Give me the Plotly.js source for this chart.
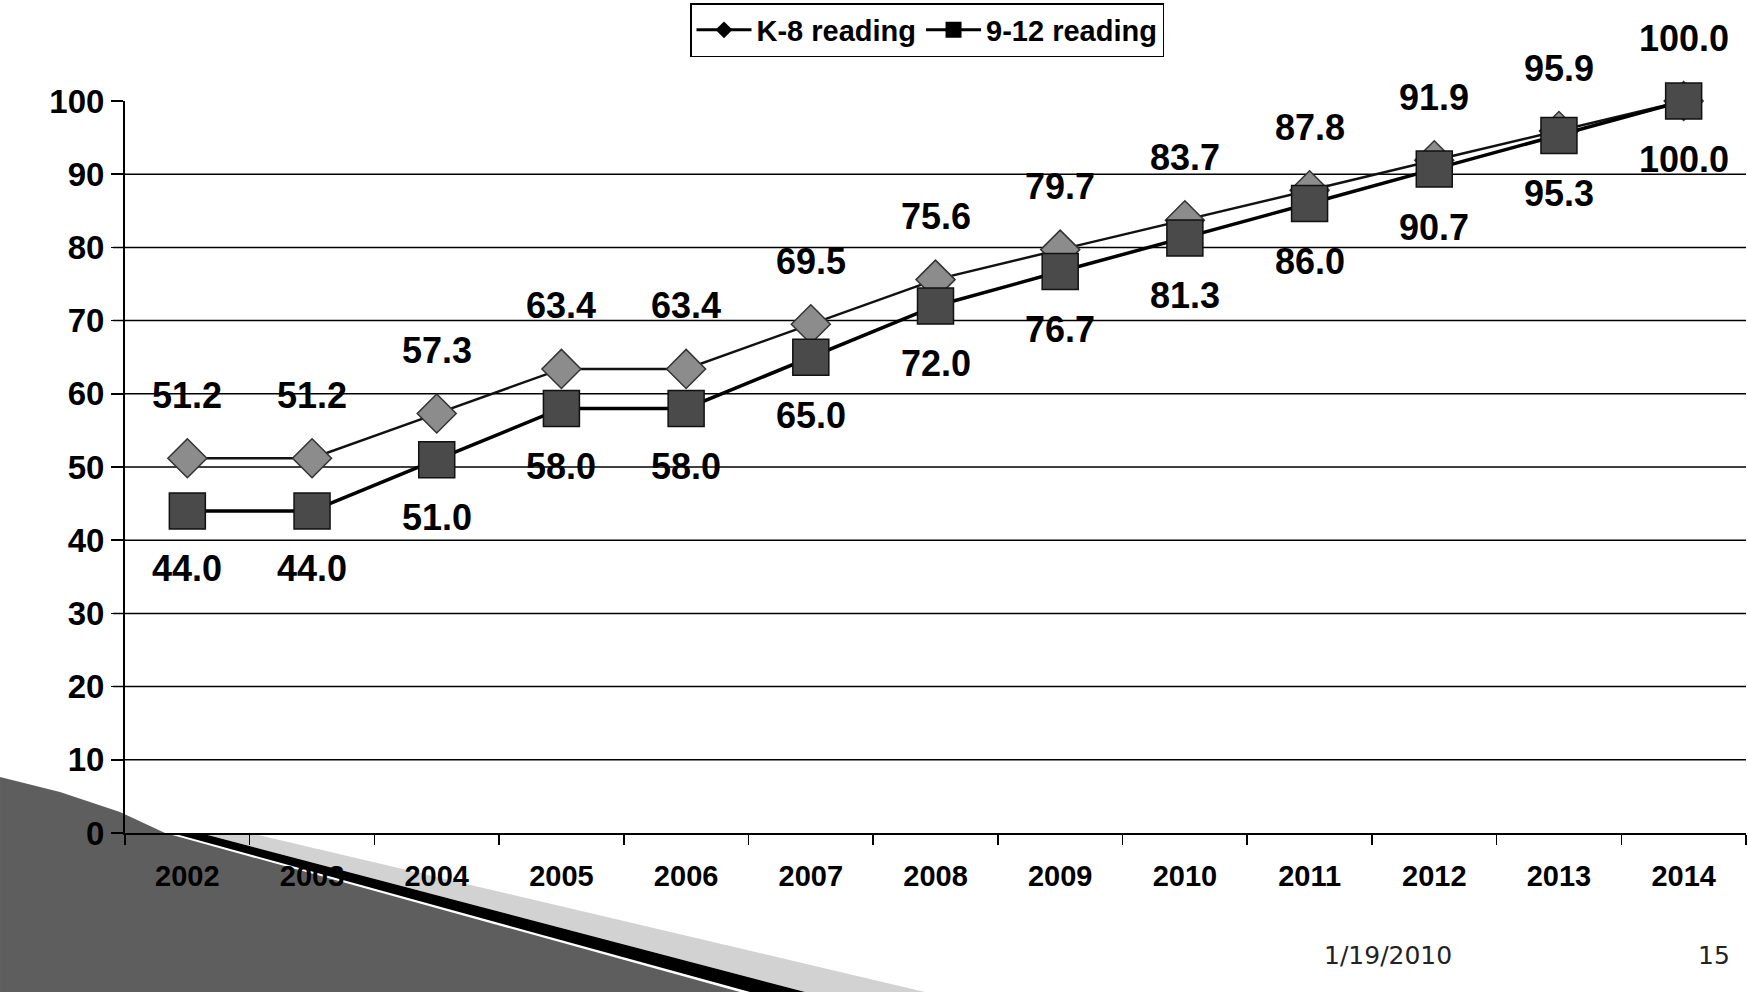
<!DOCTYPE html>
<html>
<head>
<meta charset="utf-8">
<script src="https://cdn.plot.ly/plotly-3.0.1.min.js"></script>
<style>html,body{margin:0;padding:0;background:#fff;}#chart{width:1748px;height:992px;}</style>
</head>
<body>
<div id="chart"></div>
<script>
const years = ["2002","2003","2004","2005","2006","2007","2008","2009","2010","2011","2012","2013","2014"];
const k8Reading = [51.2, 51.2, 57.3, 63.4, 63.4, 69.5, 75.6, 79.7, 83.7, 87.8, 91.9, 95.9, 100.0];
const g912Reading = [44.0, 44.0, 51.0, 58.0, 58.0, 65.0, 72.0, 76.7, 81.3, 86.0, 90.7, 95.3, 100.0];
const yTicks = [0,10,20,30,40,50,60,70,80,90,100];
const gridVals = [10,20,30,40,50,60,70,80,90];
const seriesNames = ["K-8 reading", "9-12 reading"];
const footerDate = "1/19/2010";
const footerPage = "15";

const W = 1748, H = 992;
const M = {l:125, r:2, t:101, b:159};
const PW = W - M.l - M.r, PH = H - M.t - M.b;
const px = x => (x - M.l) / PW;
const py = y => (H - M.b - y) / PH;
function path(pts){ return 'M ' + pts.map(p => px(p[0]).toFixed(4) + ' ' + py(p[1]).toFixed(4)).join(' L ') + ' Z'; }

const labelFont = {family:'"Liberation Sans", Arial, sans-serif', size:36, color:'#000', weight:700};

const traces = [
  {x: years, y: k8Reading, type:'scatter', mode:'lines+markers', name: seriesNames[0], showlegend:false, cliponaxis:false,
   line:{color:'#111', width:2.5},
   marker:{symbol:'diamond', size:30, color:'#8c8c8c', line:{color:'#333', width:1.5}}},
  {x: years, y: g912Reading, type:'scatter', mode:'lines+markers', name: seriesNames[1], showlegend:false, cliponaxis:false,
   line:{color:'#000', width:3.5},
   marker:{symbol:'square', size:36, color:'#4a4a4a', line:{color:'#111', width:1.5}}},
  {x:[null], y:[null], type:'scatter', mode:'lines+markers', name: seriesNames[0], showlegend:true,
   line:{color:'#000', width:3}, marker:{symbol:'diamond', size:13, color:'#000'}},
  {x:[null], y:[null], type:'scatter', mode:'lines+markers', name: seriesNames[1], showlegend:true,
   line:{color:'#000', width:3}, marker:{symbol:'square', size:18, color:'#000'}}
];

const annotations = [];
years.forEach((yr, i) => {
  annotations.push({x: i, y: k8Reading[i], xref:'x', yref:'y', text: k8Reading[i].toFixed(1), showarrow:false, yshift:63, xanchor:'center', yanchor:'middle', font:labelFont});
  annotations.push({x: i, y: g912Reading[i], xref:'x', yref:'y', text: g912Reading[i].toFixed(1), showarrow:false, yshift:-58, xanchor:'center', yanchor:'middle', font:labelFont});
});
const footFont = {family:'"DejaVu Sans", Verdana, sans-serif', size:25, color:'#222'};
annotations.push({xref:'paper', yref:'paper', x:px(1388), y:py(955), xanchor:'center', yanchor:'middle', text: footerDate, showarrow:false, font:footFont});
annotations.push({xref:'paper', yref:'paper', x:px(1714), y:py(955), xanchor:'center', yanchor:'middle', text: footerPage, showarrow:false, font:footFont});

const shapes = gridVals.map(v => ({type:'line', xref:'paper', yref:'y', x0:-12/PW, x1:1, y0:v, y1:v, line:{color:'#000', width:1.5}, layer:'below'}));
shapes.push({type:'path', xref:'paper', yref:'paper', layer:'below', path: path([[0,777],[60,792],[120,812],[165,833],[740,992],[0,992]]), fillcolor:'#5e5e5e', line:{width:0}});
shapes.push({type:'path', xref:'paper', yref:'paper', layer:'below', path: path([[200,833],[250,833],[925,992],[805,992]]), fillcolor:'#d2d2d2', line:{width:0}});
shapes.push({type:'path', xref:'paper', yref:'paper', layer:'above', path: path([[172,833],[200,833],[805,992],[750,992]]), fillcolor:'#000', line:{width:0}});

const layout = {
  width: W, height: H,
  margin: M,
  paper_bgcolor:'#fff', plot_bgcolor:'rgba(0,0,0,0)',
  showlegend:true,
  legend:{orientation:'h', x:px(690), xanchor:'left', y:py(3), yanchor:'top',
    bgcolor:'#fff', bordercolor:'#000', borderwidth:1.5,
    font:{family:'"Liberation Sans", Arial, sans-serif', size:29, color:'#000', weight:700},
    itemwidth:55, tracegroupgap:0},
  xaxis:{type:'category', categoryarray: years, tickson:'boundaries', ticks:'outside', ticklen:10, tickwidth:1.5, tickcolor:'#000',
    showline:true, linecolor:'#000', linewidth:2, showgrid:false, zeroline:false, ticklabelstandoff:16,
    tickfont:{family:'"Liberation Sans", Arial, sans-serif', size:29, color:'#000', weight:700},
    range:[-0.5, 12.5], fixedrange:true},
  yaxis:{range:[0,100], tickvals: yTicks, ticktext: yTicks.map(String), ticks:'outside', ticklen:12, tickwidth:1.5, tickcolor:'#000',
    showline:true, linecolor:'#000', linewidth:2, showgrid:false, zeroline:false,
    tickfont:{family:'"Liberation Sans", Arial, sans-serif', size:33, color:'#000', weight:700}},
  shapes: shapes,
  annotations: annotations
};

Plotly.newPlot('chart', traces, layout, {displayModeBar:false, staticPlot:true});
</script>
</body>
</html>
